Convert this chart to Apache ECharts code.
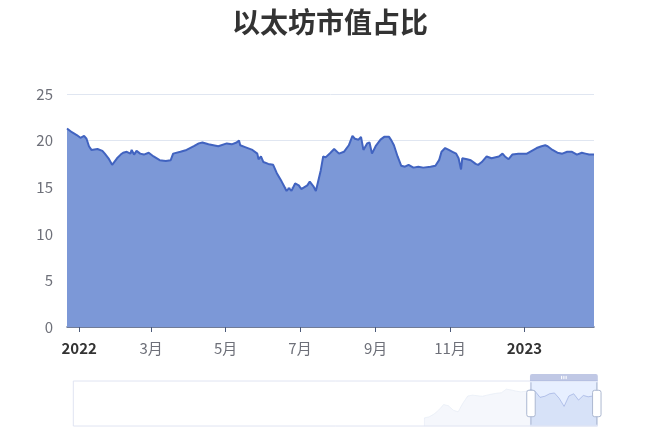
<!DOCTYPE html>
<html>
<head>
<meta charset="utf-8">
<script src="https://cdn.jsdelivr.net/npm/echarts@6/dist/echarts.min.js"></script>
<style>html,body{margin:0;padding:0;background:#fff;}#chart{width:660px;height:440px;}</style>
</head>
<body>
<div id="chart"></div>
<script>
// ---- data ----
const chartTitle = '以太坊市值占比';
const mainDates = [
'2021-12-22','2021-12-26','2021-12-30','2022-01-02','2022-01-05','2022-01-07','2022-01-09','2022-01-11','2022-01-16','2022-01-20',
'2022-01-22','2022-01-25','2022-01-28','2022-01-29','2022-02-01','2022-02-04','2022-02-06','2022-02-09','2022-02-12','2022-02-13',
'2022-02-15','2022-02-17','2022-02-20','2022-02-23','2022-02-27','2022-03-03','2022-03-08','2022-03-13','2022-03-17','2022-03-19',
'2022-03-25','2022-03-30','2022-04-05','2022-04-09','2022-04-12','2022-04-17','2022-04-25','2022-05-02','2022-05-06','2022-05-10',
'2022-05-12','2022-05-13','2022-05-17','2022-05-23','2022-05-27','2022-05-28','2022-05-30','2022-06-01','2022-06-05','2022-06-09',
'2022-06-12','2022-06-16','2022-06-18','2022-06-20','2022-06-22','2022-06-24','2022-06-27','2022-06-30','2022-07-02','2022-07-07',
'2022-07-09','2022-07-12','2022-07-14','2022-07-18','2022-07-20','2022-07-22','2022-07-26','2022-07-29','2022-08-02','2022-08-06',
'2022-08-10','2022-08-13','2022-08-15','2022-08-18','2022-08-20','2022-08-22','2022-08-25','2022-08-27','2022-08-29','2022-09-01',
'2022-09-05','2022-09-08','2022-09-12','2022-09-14','2022-09-16','2022-09-19','2022-09-22','2022-09-25','2022-09-28','2022-10-02',
'2022-10-06','2022-10-10','2022-10-16','2022-10-20','2022-10-23','2022-10-25','2022-10-28','2022-10-31','2022-11-03','2022-11-06',
'2022-11-08','2022-11-10','2022-11-11','2022-11-15','2022-11-18','2022-11-22','2022-11-24','2022-11-27','2022-12-01','2022-12-05',
'2022-12-11','2022-12-14','2022-12-16','2022-12-19','2022-12-22','2022-12-27','2023-01-03','2023-01-07','2023-01-11','2023-01-15',
'2023-01-18','2023-01-20','2023-01-24','2023-01-28','2023-02-01','2023-02-05','2023-02-09','2023-02-13','2023-02-17','2023-02-20',
'2023-02-23','2023-02-27'
];
const mainShare = [
21.3,20.9,20.6,20.3,20.5,20.2,19.4,19.0,19.1,18.9,
18.6,18.1,17.4,17.5,18.1,18.5,18.7,18.8,18.6,19.0,
18.5,18.9,18.6,18.5,18.7,18.3,17.9,17.8,17.9,18.6,
18.8,19.0,19.4,19.7,19.8,19.6,19.4,19.7,19.6,19.8,
20.0,19.5,19.3,19.0,18.6,18.0,18.3,17.7,17.5,17.4,
16.5,15.6,15.1,14.6,14.9,14.6,15.4,15.2,14.8,15.2,
15.6,15.1,14.6,16.8,18.3,18.2,18.7,19.1,18.6,18.8,
19.5,20.5,20.2,20.1,20.4,19.0,19.7,19.8,18.6,19.4,
20.1,20.4,20.4,20.0,19.5,18.3,17.3,17.2,17.4,17.1,
17.2,17.1,17.2,17.3,17.9,18.8,19.2,19.0,18.8,18.6,
18.1,16.9,18.1,18.0,17.9,17.5,17.4,17.7,18.3,18.1,
18.3,18.6,18.3,18.0,18.5,18.6,18.6,18.9,19.2,19.4,
19.5,19.4,19.0,18.7,18.6,18.8,18.8,18.5,18.7,18.6,
18.5,18.5
];
const tickDates = ['2022-01-01','2022-03-01','2022-05-01','2022-07-01','2022-09-01','2022-11-01','2023-01-01'];
const yTicks = [0, 5, 10, 15, 20, 25];

// monthly overview used by the zoom slider's shadow (first month: 2014-01)
const overviewStartYear = 2014;
const overviewStartMonth = 1;
const overviewShare = [
null,null,null,null,null,null,null,null,null,null,null,null,
null,null,null,null,null,null,null,null,null,null,null,null,
null,null,null,null,null,null,null,null,null,null,null,null,
null,null,null,null,null,null,null,null,null,null,null,null,
null,null,null,null,null,null,null,null,null,null,null,null,
null,null,null,null,null,null,null,null,null,null,null,null,
null,
10.6,11.0,12.0,13.5,15.5,15.0,13.4,12.8,16.0,18.6,18.9,
18.7,18.5,18.9,19.3,19.6,19.8,21.1,20.8,20.4,20.1,20.3,
21.0,20.3,18.1,18.5,19.4,19.7,17.7,14.8,18.6,19.4,17.1,18.8,18.3,
18.6,18.6
];

// ---- build ----
function parseDay(s){ const p = s.split('-').map(Number); return new Date(p[0], p[1]-1, p[2] || 1).getTime(); }
const mainData = mainDates.map((d, i) => [parseDay(d), mainShare[i]]);
const overviewData = overviewShare.map((v, i) => {
  const m0 = overviewStartMonth - 1 + i;
  const y = overviewStartYear + Math.floor(m0 / 12);
  const m = (m0 % 12) + 1;
  return [new Date(y, m - 1, 1).getTime(), v];
});
const tickValues = tickDates.map(parseDay);

const chart = echarts.init(document.getElementById('chart'));
chart.setOption({
  backgroundColor: '#fff',
  animation: false,
  textStyle: { fontFamily: 'Noto Sans CJK SC' },
  title: {
    text: chartTitle, left: 'center', top: 3,
    textStyle: { fontSize: 28, fontWeight: 'bold', color: '#333', fontFamily: 'Noto Sans CJK SC' }
  },
  grid: { left: 67, right: 66, top: 94, bottom: 113, containLabel: false, outerBoundsMode: 'none' },
  xAxis: {
    type: 'value',
    min: 'dataMin', max: 'dataMax',
    axisLine: { show: true, lineStyle: { color: '#4c5a7a', width: 1.5 } },
    axisTick: { show: true, customValues: tickValues, length: 5, lineStyle: { color: '#4c5a7a' } },
    splitLine: { show: false },
    axisLabel: {
      customValues: tickValues,
      margin: 14,
      fontSize: 15,
      color: '#6e7079',
      formatter: function (value) {
        const d = new Date(value);
        return d.getMonth() === 0 ? '{yr|' + d.getFullYear() + '}' : (d.getMonth() + 1) + '月';
      },
      rich: { yr: { fontSize: 15, fontWeight: 'bold', color: '#333', fontFamily: 'Noto Sans CJK SC' } }
    }
  },
  yAxis: {
    type: 'value', min: yTicks[0], max: yTicks[yTicks.length - 1], interval: 5,
    axisLine: { show: false }, axisTick: { show: false },
    axisLabel: { fontSize: 15, color: '#6e7079', margin: 14 },
    splitLine: { lineStyle: { color: '#e0e6f1' } }
  },
  dataZoom: [{
    type: 'slider',
    xAxisIndex: 0,
    startValue: mainData[0][0],
    endValue: mainData[mainData.length - 1][0],
    left: 70, right: 65, top: 374, height: 46,
    handleSize: '92%',
    handleStyle: { color: '#fff', borderColor: '#acb8d1', borderWidth: 1 },
    showDataShadow: true,
    labelFormatter: function () { return ''; },
    dataBackground: {
      lineStyle: { color: '#dfe6f3', width: 0.5 },
      areaStyle: { color: '#e3e9f5', opacity: 0.35 }
    },
    filterMode: 'filter'
  }],
  series: [
    {
      name: 'overview', type: 'line', data: overviewData,
      showSymbol: false, silent: true, z: 0,
      lineStyle: { opacity: 0 }, emphasis: { disabled: true }, tooltip: { show: false }
    },
    {
      name: '以太坊市值占比', type: 'line', data: mainData,
      showSymbol: false, smooth: false, z: 3,
      lineStyle: { color: '#4163c0', width: 2 },
      itemStyle: { color: '#4163c0' },
      areaStyle: { color: '#7c98d7', opacity: 1 }
    }
  ]
});
</script>
</body>
</html>
